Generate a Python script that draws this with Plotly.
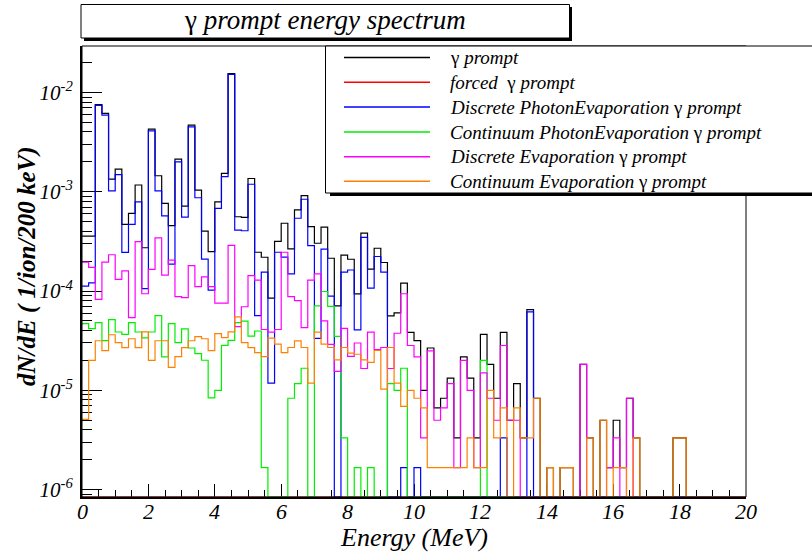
import plotly.graph_objects as go

# ---------------- data (dN/dE per 200 keV bin, 0-20 MeV, 100 bins) ----------------
BIN_WIDTH_MEV = 0.2
N_BINS = 100
bin_edges = [round(i * BIN_WIDTH_MEV, 1) for i in range(N_BINS + 1)]

gamma_prompt = [
    3.58e-4, 3.58e-4, 7.57e-3, 6.15e-3, 1.34e-3, 1.69e-3, 4.69e-4, 6.05e-4, 1.17e-3, 2.73e-4,
    4.28e-3, 1.45e-3, 7.64e-4, 4.55e-4, 2.13e-3, 7.18e-4, 4.69e-3, 1.04e-3, 4.02e-4, 2.49e-4,
    7.92e-4, 1.53e-3, 1.55e-2, 5.60e-4, 5.52e-4, 1.36e-3, 2.46e-4, 2.19e-4, 8.48e-5, 3.16e-4,
    4.82e-4, 2.66e-4, 6.58e-4, 9.16e-4, 4.46e-4, 3.03e-4, 4.40e-4, 2.14e-4, 7.10e-5, 2.30e-4,
    2.09e-4, 9.37e-5, 3.83e-4, 1.66e-4, 2.70e-4, 1.94e-4, 5.62e-5, 6.03e-5, 1.20e-4, 3.83e-5,
    3.17e-5, 1.00e-5, 2.67e-5, 6.67e-6, 8.33e-6, 1.33e-5, 3.33e-6, 2.17e-5, 1.33e-5, 3.33e-6,
    3.67e-5, 1.83e-5, 8.33e-6, 3.83e-5, 5.00e-6, 1.17e-5, 3.33e-6, 6.50e-5, 8.33e-6, 0,
    1.67e-6, 0, 1.67e-6, 1.67e-6, 0, 1.83e-5, 3.33e-6, 0, 5.00e-6, 1.67e-6,
    5.00e-6, 1.67e-6, 8.33e-6, 3.33e-6, 0, 0, 0, 0, 0, 3.33e-6,
    3.33e-6, 0, 0, 0, 0, 0, 0, 0, 0, 0,
]

forced_gamma_prompt = [0] * 100

discrete_photon_evap = [
    1.12e-4, 1.21e-4, 7.40e-3, 5.90e-3, 1.02e-3, 1.49e-3, 2.45e-4, 4.69e-4, 7.92e-4, 1.06e-4,
    4.11e-3, 1.02e-3, 5.73e-4, 1.87e-4, 2.00e-3, 5.56e-4, 4.51e-3, 8.70e-4, 2.10e-4, 1.02e-4,
    6.79e-4, 1.42e-3, 1.52e-2, 4.11e-4, 4.05e-4, 1.19e-3, 5.66e-5, 1.55e-4, 1.18e-5, 2.46e-4,
    2.20e-4, 1.49e-4, 5.41e-4, 8.41e-4, 2.87e-4, 3.34e-5, 2.64e-4, 8.90e-5, 0, 1.55e-4,
    1.63e-4, 4.07e-5, 3.48e-4, 1.07e-4, 2.23e-4, 1.55e-4, 0, 0, 1.67e-6, 0,
    1.67e-6, 0, 0, 0, 0, 0, 0, 0, 0, 0,
    0, 0, 0, 3.33e-6, 0, 0, 0, 6.17e-5, 0, 0,
    0, 0, 0, 0, 0, 0, 0, 0, 0, 0,
    0, 0, 0, 0, 0, 0, 0, 0, 0, 0,
    0, 0, 0, 0, 0, 0, 0, 0, 0, 0,
]

continuum_photon_evap = [
    4.71e-5, 4.19e-5, 4.82e-5, 3.17e-5, 5.16e-5, 3.87e-5, 3.67e-5, 4.82e-5, 3.87e-5, 3.37e-5,
    3.87e-5, 5.66e-5, 2.17e-5, 4.71e-5, 3.03e-5, 4.16e-5, 2.67e-5, 2.34e-5, 2.01e-5, 8.40e-6,
    1.00e-5, 2.84e-5, 3.19e-5, 4.82e-5, 4.97e-5, 3.51e-5, 3.96e-5, 1.67e-6, 0, 0,
    0, 8.33e-6, 1.17e-5, 1.67e-5, 0, 7.10e-5, 9.90e-5, 7.00e-5, 3.50e-5, 3.33e-6,
    0, 1.67e-6, 0, 1.67e-6, 0, 0, 1.17e-5, 1.00e-5, 1.67e-5, 0,
    0, 0, 0, 0, 0, 0, 0, 0, 0, 0,
    2.00e-5, 0, 0, 0, 0, 0, 0, 0, 0, 0,
    0, 0, 0, 0, 0, 0, 0, 0, 0, 0,
    0, 0, 0, 0, 0, 0, 0, 0, 0, 0,
    0, 0, 0, 0, 0, 0, 0, 0, 0, 0,
]

discrete_evap = [
    1.96e-4, 1.73e-4, 8.24e-5, 1.96e-4, 2.32e-4, 1.31e-4, 1.60e-4, 5.39e-5, 3.14e-4, 9.40e-5,
    1.65e-4, 3.44e-4, 1.45e-4, 2.05e-4, 8.77e-5, 8.57e-5, 1.80e-4, 1.11e-4, 1.39e-4, 1.11e-4,
    7.57e-5, 7.57e-5, 2.88e-4, 4.38e-5, 6.95e-5, 1.43e-4, 1.29e-4, 4.10e-5, 3.86e-5, 4.10e-5,
    2.46e-4, 8.80e-5, 8.00e-5, 4.28e-5, 1.29e-4, 1.49e-4, 5.00e-5, 2.90e-5, 1.55e-5, 4.20e-5,
    2.20e-5, 3.00e-5, 1.66e-5, 3.86e-5, 2.57e-5, 2.70e-5, 1.66e-5, 3.76e-5, 9.40e-5, 2.83e-5,
    2.17e-5, 3.33e-6, 2.50e-5, 5.00e-6, 6.67e-6, 1.17e-5, 1.67e-6, 2.00e-5, 1.00e-5, 1.67e-6,
    1.50e-5, 8.33e-6, 5.00e-6, 2.83e-5, 5.00e-6, 5.00e-6, 0, 0, 0, 0,
    0, 0, 0, 0, 0, 1.83e-5, 0, 0, 0, 1.67e-6,
    3.33e-6, 0, 8.33e-6, 0, 0, 0, 0, 0, 0, 0,
    0, 0, 0, 0, 0, 0, 0, 0, 0, 0,
]

continuum_evap = [
    5.10e-6, 2.00e-5, 3.16e-5, 2.51e-5, 3.63e-5, 3.02e-5, 2.69e-5, 3.31e-5, 2.69e-5, 3.89e-5,
    2.00e-5, 3.16e-5, 3.16e-5, 1.70e-5, 2.19e-5, 2.69e-5, 3.16e-5, 3.47e-5, 3.31e-5, 2.51e-5,
    3.72e-5, 3.39e-5, 3.89e-5, 5.50e-5, 3.02e-5, 2.69e-5, 2.40e-5, 2.19e-5, 3.35e-5, 2.92e-5,
    2.40e-5, 2.70e-5, 3.15e-5, 2.70e-5, 1.18e-5, 3.86e-5, 2.92e-5, 2.70e-5, 2.03e-5, 2.70e-5,
    2.37e-5, 2.31e-5, 2.03e-5, 1.91e-5, 2.52e-5, 1.03e-5, 2.70e-5, 1.18e-5, 6.90e-6, 1.00e-5,
    8.33e-6, 6.67e-6, 1.67e-6, 1.67e-6, 1.67e-6, 1.67e-6, 1.67e-6, 1.67e-6, 3.33e-6, 1.67e-6,
    1.67e-6, 1.00e-5, 3.33e-6, 6.67e-6, 0, 6.67e-6, 3.33e-6, 3.33e-6, 8.33e-6, 0,
    1.67e-6, 0, 1.67e-6, 1.67e-6, 0, 0, 3.33e-6, 0, 5.00e-6, 0,
    1.67e-6, 1.67e-6, 0, 3.33e-6, 0, 0, 0, 0, 0, 3.33e-6,
    3.33e-6, 0, 0, 0, 0, 0, 0, 0, 0, 0,
]

series_names = [
    "γ <i>prompt</i>",
    "<i>forced</i>  γ <i>prompt</i>",
    "<i>Discrete PhotonEvaporation</i> γ <i>prompt</i>",
    "<i>Continuum PhotonEvaporation</i> γ <i>prompt</i>",
    "<i>Discrete Evaporation</i> γ <i>prompt</i>",
    "<i>Continuum Evaporation</i> γ <i>prompt</i>",
]
series_values = [gamma_prompt, forced_gamma_prompt, discrete_photon_evap,
                 continuum_photon_evap, discrete_evap, continuum_evap]
series_colors = ["#000000", "#ff0000", "#0000ff", "#00ee00", "#ff00ff", "#ff8000"]

x_tick_values = [0, 2, 4, 6, 8, 10, 12, 14, 16, 18, 20]
y_tick_exponents = [-6, -5, -4, -3, -2]

# ---------------- layout geometry ----------------
W, H = 812, 552
L, R, T, B = 82, 66, 46, 55
PW, PH = W - L - R, H - T - B
Y_LOG_MIN, Y_LOG_MAX = -6.074, -1.532
FONT = "Liberation Serif"


def px(x):
    return (x - L) / PW


def py(y):
    return (H - B - y) / PH


fig = go.Figure()
floor = 10 ** Y_LOG_MIN
for name, vals, color in zip(series_names, series_values, series_colors):
    y = [v if v > 0 else floor for v in vals]
    fig.add_trace(go.Scatter(
        x=bin_edges, y=y + [y[-1]], mode="lines", name=name,
        line=dict(color=color, width=1.2, shape="hv"), hoverinfo="skip",
    ))

minor_y = [k * 10.0 ** e for e in range(-7, -1) for k in range(2, 10)]

fig.update_layout(
    width=W, height=H, margin=dict(l=L, r=R, t=T, b=B),
    paper_bgcolor="white", plot_bgcolor="white", showlegend=False,
    font=dict(family=FONT, color="black"),
)
fig.update_xaxes(
    range=[0, 20], tickvals=x_tick_values, showticklabels=False,
    ticks="inside", ticklen=13, tickwidth=1,
    tickcolor="black", showgrid=False, zeroline=False, showline=True,
    linewidth=2, linecolor="black", layer="below traces",
    minor=dict(dtick=0.5, tick0=0, ticks="inside", ticklen=7, tickcolor="black", showgrid=False),
)
fig.update_yaxes(
    type="log", range=[Y_LOG_MIN, Y_LOG_MAX],
    tickvals=[10.0 ** e for e in y_tick_exponents],
    ticktext=[f"10<sup>{e}</sup>" for e in y_tick_exponents],
    ticks="inside", ticklen=20, tickwidth=1, tickcolor="black",
    showgrid=False, zeroline=False, showline=True, linewidth=2, linecolor="black",
    layer="below traces", ticklabelstandoff=3,
    tickfont=dict(family=FONT, size=21, style="italic", color="black"),
    minor=dict(tickvals=minor_y, ticks="inside", ticklen=10, tickcolor="black", showgrid=False),
)

shapes = [
    dict(type="rect", xref="paper", yref="paper", x0=0, x1=1, y0=0, y1=1,
         line=dict(color="black", width=1)),
    # title box with shadow
    dict(type="rect", xref="paper", yref="paper", x0=px(84), x1=px(572), y0=py(41), y1=py(7),
         fillcolor="black", line=dict(width=0)),
    dict(type="rect", xref="paper", yref="paper", x0=px(81), x1=px(569.5), y0=py(38), y1=py(4.5),
         fillcolor="white", line=dict(color="black", width=1)),
    # legend box with shadow
    dict(type="rect", xref="paper", yref="paper", x0=px(330), x1=px(830), y0=py(196), y1=py(50),
         fillcolor="black", line=dict(width=0)),
    dict(type="rect", xref="paper", yref="paper", x0=px(325.5), x1=px(826), y0=py(193), y1=py(46),
         fillcolor="white", line=dict(color="black", width=1)),
]

annotations = [
    dict(text="γ <i>prompt energy spectrum</i>", x=px(325), y=py(20), xref="paper", yref="paper",
         showarrow=False, xanchor="center", yanchor="middle",
         font=dict(family=FONT, size=27, color="black")),
    dict(text="<i>Energy (MeV)</i>", x=px(414), y=py(537), xref="paper", yref="paper",
         showarrow=False, xanchor="center", yanchor="middle",
         font=dict(family=FONT, size=26, color="black")),
    dict(text="<b><i>dN/dE ( 1/ion/200 keV)</i></b>", x=px(27), y=py(266), xref="paper", yref="paper",
         showarrow=False, xanchor="center", yanchor="middle", textangle=-90,
         font=dict(family=FONT, size=25, color="black")),
]

for v in x_tick_values:
    annotations.append(dict(text=f"<i>{v}</i>", x=v, y=py(511), xref="x", yref="paper",
                            showarrow=False, xanchor="center", yanchor="middle",
                            font=dict(family=FONT, size=22, color="black")))

legend_rows = [57.5, 82.3, 107, 132, 156.7, 181.3]
for name, color, ry in zip(series_names, series_colors, legend_rows):
    shapes.append(dict(type="line", xref="paper", yref="paper", x0=px(344), x1=px(430),
                       y0=py(ry), y1=py(ry), line=dict(color=color, width=1.5)))
    annotations.append(dict(text=name, x=px(448), y=py(ry), xref="paper", yref="paper",
                            showarrow=False, xanchor="left", yanchor="middle",
                            font=dict(family=FONT, size=19, color="black")))

fig.update_layout(shapes=shapes, annotations=annotations)
fig.write_html("out.html")
